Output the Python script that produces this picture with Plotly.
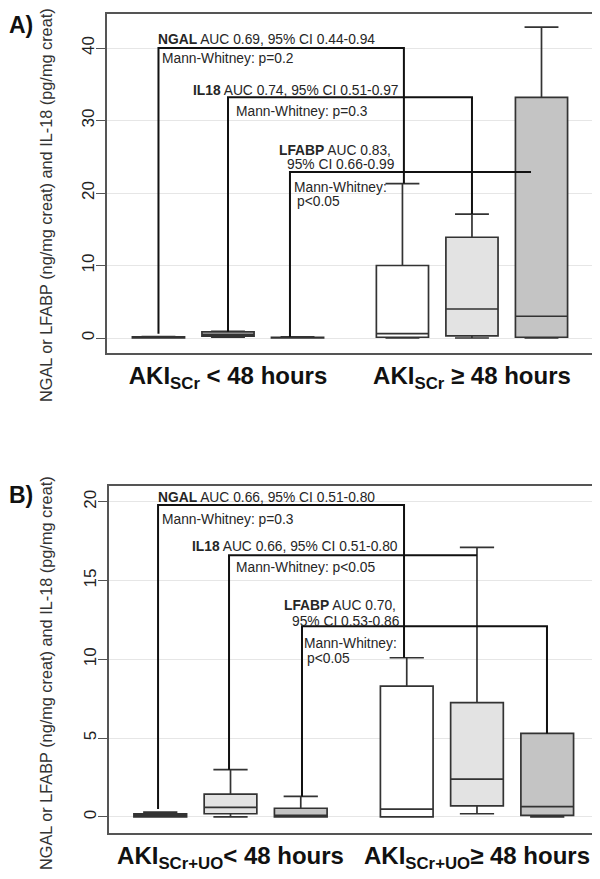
import plotly.graph_objects as go

# The page body has an 8px margin, so the figure is drawn 8px in from the top-left.
OX, OY = 8, 8
W, H = 592, 871


def px(x):   # page x pixel -> paper fraction
    return (x - OX) / W


def py(y):   # page y pixel -> paper fraction
    return 1 - (y - OY) / H


# ---------------- data ----------------
categories = ["lt48", "ge48"]
markers = ["NGAL", "IL18", "LFABP"]
fill_colors = ["#ffffff", "#e3e3e3", "#c4c4c4"]

# Panel A: AKI_SCr
a_q1 = {"NGAL": [0.0, 0.1], "IL18": [0.25, 0.3], "LFABP": [0.0, 0.1]}
a_median = {"NGAL": [0.05, 0.6], "IL18": [0.5, 4.0], "LFABP": [0.02, 3.0]}
a_q3 = {"NGAL": [0.15, 10.0], "IL18": [0.85, 13.9], "LFABP": [0.1, 33.2]}
a_lower = {"NGAL": [0.0, 0.0], "IL18": [0.1, 0.0], "LFABP": [0.0, 0.0]}
a_upper = {"NGAL": [0.2, 21.3], "IL18": [0.9, 17.1], "LFABP": [0.15, 42.9]}

# Panel B: AKI_SCr+UO
b_q1 = {"NGAL": [0.0, 0.0], "IL18": [0.2, 0.7], "LFABP": [0.0, 0.1]}
b_median = {"NGAL": [0.1, 0.5], "IL18": [0.6, 2.4], "LFABP": [0.1, 0.65]}
b_q3 = {"NGAL": [0.2, 8.3], "IL18": [1.45, 7.25], "LFABP": [0.55, 5.3]}
b_lower = {"NGAL": [0.0, 0.0], "IL18": [0.0, 0.2], "LFABP": [0.0, 0.0]}
b_upper = {"NGAL": [0.3, 10.1], "IL18": [3.0, 17.1], "LFABP": [1.3, 5.3]}

a_ticktext = ["AKI<sub>SCr</sub> &lt; 48 hours", "AKI<sub>SCr</sub> ≥ 48 hours"]
b_ticktext = ["AKI<sub>SCr+UO</sub>&lt; 48 hours", "AKI<sub>SCr+UO</sub>≥ 48 hours"]
a_yticks = [0, 10, 20, 30, 40]
b_yticks = [0, 5, 10, 15, 20]

a_auc = {"NGAL": "AUC 0.69, 95% CI 0.44-0.94", "IL18": "AUC 0.74, 95% CI 0.51-0.97",
         "LFABP": ["AUC 0.83,", "95% CI 0.66-0.99"]}
a_mw = {"NGAL": "Mann-Whitney: p=0.2", "IL18": "Mann-Whitney: p=0.3",
        "LFABP": ["Mann-Whitney:", "p<0.05"]}
b_auc = {"NGAL": "AUC 0.66, 95% CI 0.51-0.80", "IL18": "AUC 0.66, 95% CI 0.51-0.80",
         "LFABP": ["AUC 0.70,", "95% CI 0.53-0.86"]}
b_mw = {"NGAL": "Mann-Whitney: p=0.3", "IL18": "Mann-Whitney: p<0.05",
        "LFABP": ["Mann-Whitney:", "p<0.05"]}

# bracket levels: (start y, top y, end y or None)
a_brackets = {"NGAL": (0.6, 40.0, 21.3), "IL18": (0.85, 33.2, 17.1), "LFABP": (0.15, 22.9, None)}
b_brackets = {"NGAL": (0.5, 19.8, 10.1), "IL18": (3.0, 16.6, None), "LFABP": (1.3, 12.1, 5.3)}

y_title = "NGAL or LFABP (ng/mg creat) and IL-18 (pg/mg creat)"

# ---------------- figure ----------------
BOXGAP = 0.145
OFF = (1 - BOXGAP) / 3  # spacing between boxes inside a group (category units)

fig = go.Figure()

LINE = "#333333"
for suffix, grp, q1, med, q3, lo, up in [("", "A", a_q1, a_median, a_q3, a_lower, a_upper),
                                         ("2", "B", b_q1, b_median, b_q3, b_lower, b_upper)]:
    for m, fc in zip(markers, fill_colors):
        fig.add_trace(go.Box(
            x=categories, q1=q1[m], median=med[m], q3=q3[m],
            lowerfence=lo[m], upperfence=up[m], name=m,
            alignmentgroup=grp, offsetgroup=m,
            fillcolor=fc, line=dict(color=LINE, width=1.7),
            whiskerwidth=0.65, boxpoints=False, showlegend=False,
            xaxis="x" + suffix, yaxis="y" + suffix, hoverinfo="skip"))

shapes = []
annotations = []
TXT = "#262626"
FS = 13.8


def add_brackets(brackets, xref, yref, left_x, right_x):
    for m in markers:
        y0, yt, y1 = brackets[m]
        xl, xr = left_x[m], right_x[m]
        path = f"M {xl},{y0} L {xl},{yt} L {xr},{yt}"
        if y1 is not None:
            path += f" L {xr},{y1}"
        shapes.append(dict(type="path", path=path, xref=xref, yref=yref,
                           line=dict(color="#111111", width=2)))


def add_text(items, xref, yref):
    for x, y, t in items:
        annotations.append(dict(x=x, y=y, xref=xref, yref=yref, text=t, showarrow=False,
                                xanchor="left", yanchor="middle", borderpad=0,
                                font=dict(size=FS, color=TXT, family="Liberation Sans, Arial")))


# Panel A brackets and text
add_brackets(a_brackets, "x", "y",
             {"NGAL": -OFF, "IL18": 0.0, "LFABP": 0.254},
             {"NGAL": 1 - OFF + 0.006, "IL18": 1.0, "LFABP": 1.242})
add_text([
    (-0.29, 41.2, "<b>NGAL</b> " + a_auc["NGAL"]),
    (-0.273, 38.5, a_mw["NGAL"]),
    (-0.146, 34.2, "<b>IL18</b> " + a_auc["IL18"]),
    (0.03, 31.3, a_mw["IL18"]),
    (0.206, 25.9, "<b>LFABP</b> " + a_auc["LFABP"][0]),
    (0.239, 24.0, a_auc["LFABP"][1]),
    (0.268, 20.7, a_mw["LFABP"][0]),
    (0.280, 18.8, a_mw["LFABP"][1]),
], "x", "y")

# Panel B brackets and text
add_brackets(b_brackets, "x2", "y2",
             {"NGAL": -0.294, "IL18": -0.006, "LFABP": 0.29},
             {"NGAL": 0.704, "IL18": 1.0, "LFABP": 1.284})
add_text([
    (-0.297, 20.25, "<b>NGAL</b> " + b_auc["NGAL"]),
    (-0.281, 18.86, b_mw["NGAL"]),
    (-0.159, 17.14, "<b>IL18</b> " + b_auc["IL18"]),
    (0.019, 15.81, b_mw["IL18"]),
    (0.214, 13.40, "<b>LFABP</b> " + b_auc["LFABP"][0]),
    (0.247, 12.38, b_auc["LFABP"][1]),
    (0.295, 10.98, b_mw["LFABP"][0]),
    (0.307, 10.03, b_mw["LFABP"][1]),
], "x2", "y2")

# panel labels and y titles
for lbl, yy in [("A)", 25), ("B)", 495)]:
    annotations.append(dict(x=0, y=py(yy), xref="paper", yref="paper", text=f"<b>{lbl}</b>",
                            showarrow=False, xanchor="left", yanchor="middle", borderpad=0,
                            font=dict(size=23, color="#111", family="Liberation Sans, Arial")))
for yy in [205, 673]:
    annotations.append(dict(x=px(46), y=py(yy), xref="paper", yref="paper", text=y_title,
                            textangle=-90, showarrow=False, xanchor="center", yanchor="middle",
                            font=dict(size=16.3, color="#333", family="Liberation Sans, Arial")))

frame = dict(showline=True, mirror=True, linecolor="#555555", linewidth=1.5, zeroline=False)
xcommon = dict(type="category", categoryorder="array", categoryarray=categories,
               tickvals=categories, showgrid=False, ticks="",
               tickfont=dict(size=24, color="#111", family="Liberation Sans, Arial", weight="bold"),
               **frame)
ycommon = dict(showgrid=True, gridcolor="#e6e6e6", gridwidth=1, ticks="outside", ticklen=9,
               tickcolor="#555555", tickangle=-90, ticklabelstandoff=-5,
               tickfont=dict(size=17, color="#222", family="Liberation Sans, Arial"), **frame)

fig.update_layout(
    width=W, height=H, autosize=False,
    margin=dict(l=0, r=0, t=0, b=0),
    paper_bgcolor="white", plot_bgcolor="white",
    boxmode="group", boxgap=BOXGAP, boxgroupgap=0.25,
    xaxis=dict(domain=[px(107), px(592)], range=[-0.496, 1.492], anchor="y",
               ticktext=a_ticktext, **xcommon),
    yaxis=dict(domain=[py(353), py(14)], range=[-2.07, 44.7], anchor="x",
               tickvals=a_yticks, **ycommon),
    xaxis2=dict(domain=[px(109), px(598)], range=[-0.493, 1.491], anchor="y2",
                ticktext=b_ticktext, **xcommon),
    yaxis2=dict(domain=[py(833), py(486)], range=[-1.02, 21.0], anchor="x2",
                tickvals=b_yticks, **ycommon),
    shapes=shapes, annotations=annotations,
)

fig.write_html("out.html")
